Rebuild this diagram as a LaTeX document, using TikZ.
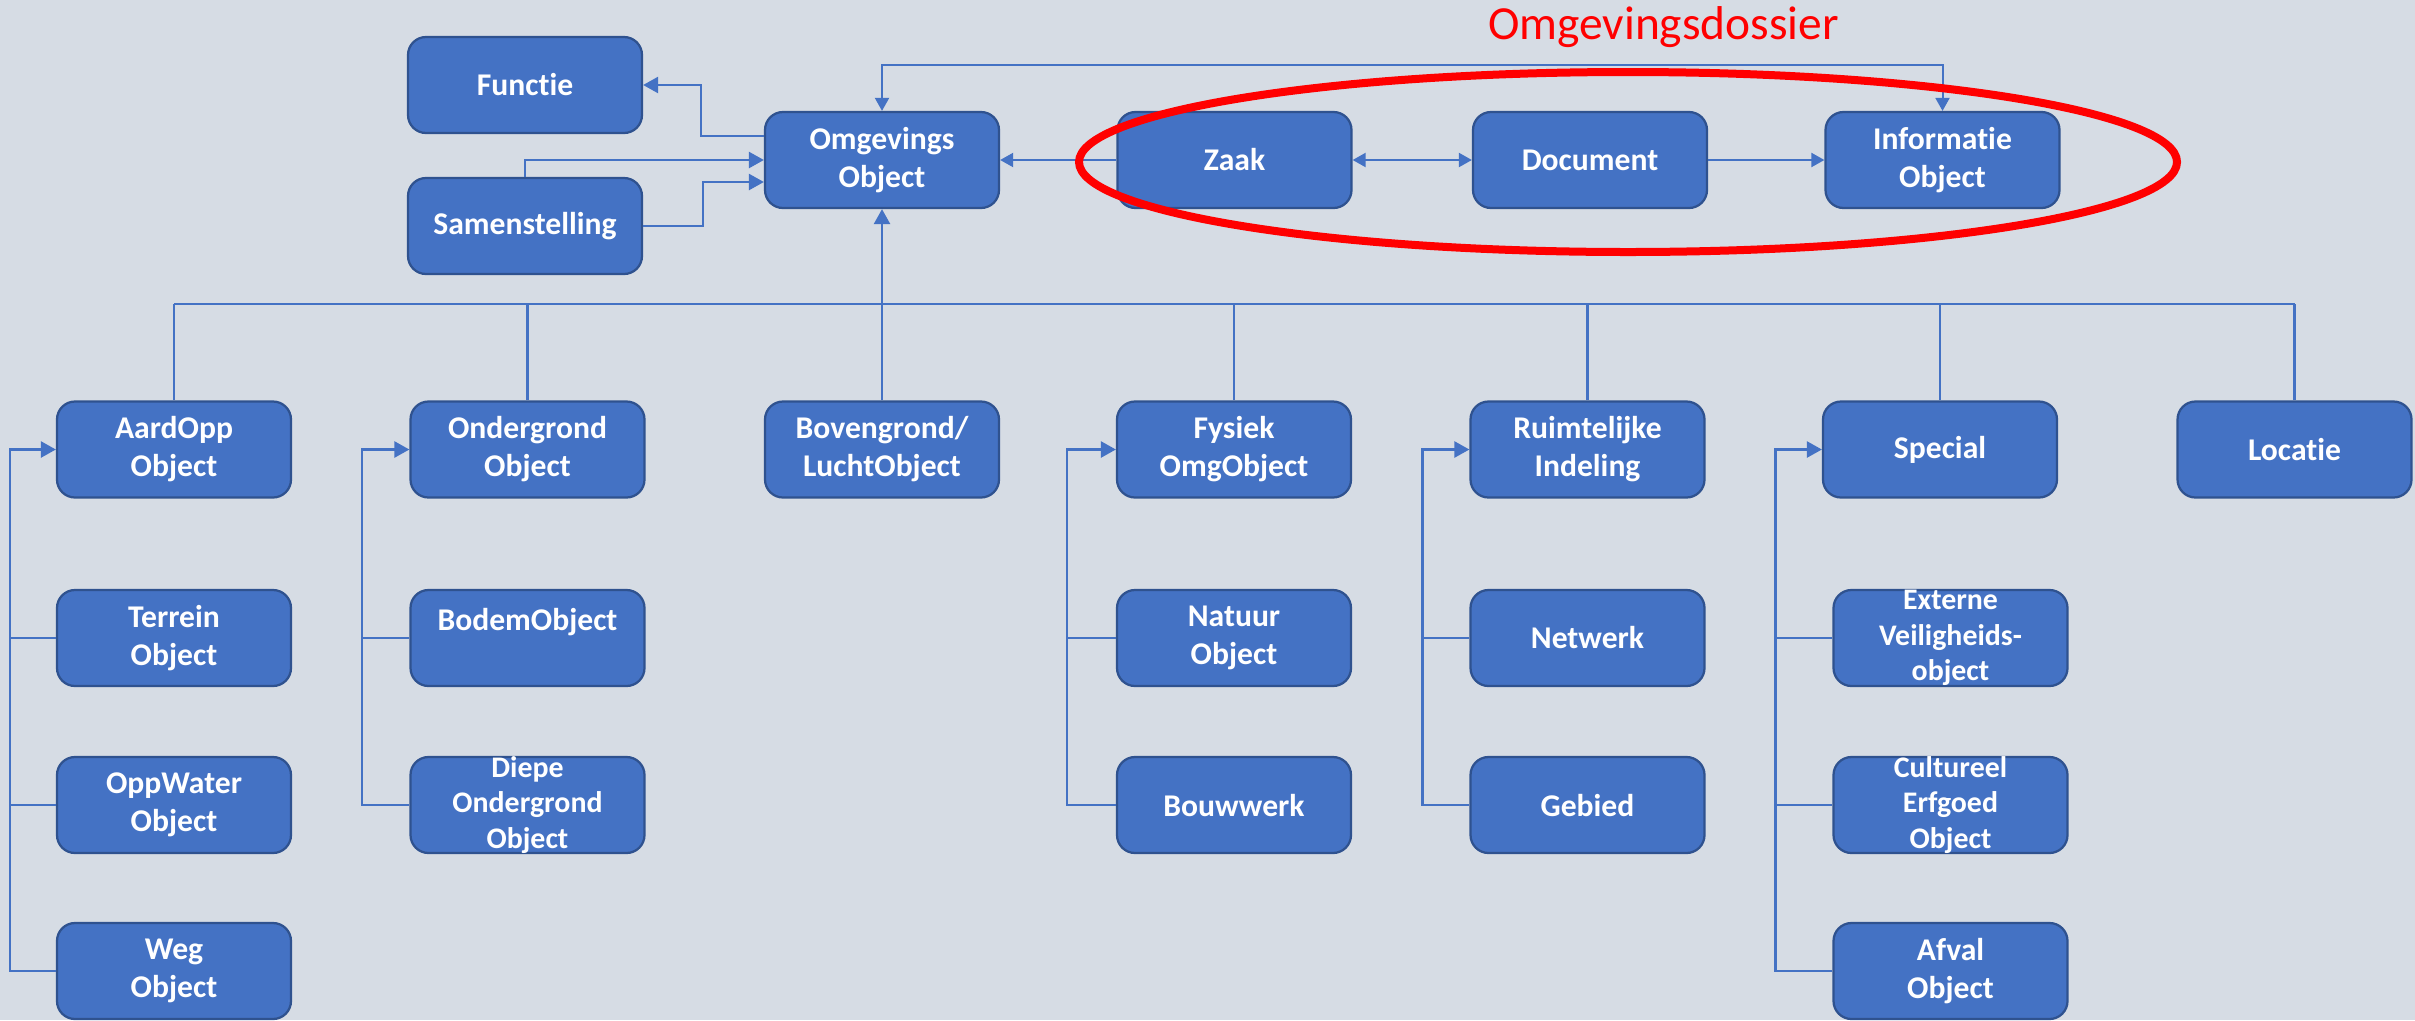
\documentclass[tikz,border=0pt]{standalone}
\usepackage{fontspec}
\setmainfont{Carlito}[Ligatures=NoCommon]
\usetikzlibrary{arrows.meta}

\definecolor{achtergrond}{HTML}{D6DCE4}
\definecolor{blokblauw}{HTML}{4472C4}
\definecolor{randblauw}{HTML}{2F528F}

% tekst in een blok van vaste maat (loopt over als hij te lang is)
\newcommand{\bloktekst}[1]{\parbox[c][1.92cm][c]{4.68cm}{\centering #1}}

\begin{document}
\begin{tikzpicture}[
  >={Triangle[length=0.3cm, width=0.32cm]},
  blok/.style={draw=randblauw, line width=0.045cm, fill=blokblauw,
    rounded corners=0.36cm, inner sep=0pt, text=white,
    font=\fontsize{18}{21.6}\selectfont\bfseries},
  klein/.style={font=\fontsize{17}{20.2}\selectfont\bfseries},
  lijn/.style={draw=blokblauw, line width=0.05cm},
  dun/.style={draw=blokblauw, line width=0.04cm,
    >={Triangle[length=0.26cm, width=0.28cm]}}
]
  % Achtergrond en maat van het plaatje
  \fill[achtergrond] (0,0) rectangle (48.3,-20.4);
  \useasboundingbox (0,0) rectangle (48.3,-20.4);

  % Bovenste rij
  \node[blok] (functie) at (10.5,-1.7) {\bloktekst{Functie}};
  \node[blok] (samenstelling) at (10.5,-4.52) {\bloktekst{Samenstelling}};
  \node[blok] (omg) at (17.64,-3.2) {\bloktekst{Omgevings\\Object}};
  \node[blok] (zaak) at (24.69,-3.2) {\bloktekst{Zaak}};
  \node[blok] (document) at (31.8,-3.2) {\bloktekst{Document}};
  \node[blok] (informatie) at (38.85,-3.2) {\bloktekst{Informatie\\Object}};

  % Hoofdsoorten
  \node[blok] (aardopp) at (3.48,-8.99) {\bloktekst{AardOpp\\Object}};
  \node[blok] (ondergrond) at (10.55,-8.99) {\bloktekst{Ondergrond\\Object}};
  \node[blok] (bovengrond) at (17.64,-8.99) {\bloktekst{Bovengrond/\\LuchtObject}};
  \node[blok] (fysiek) at (24.68,-8.99) {\bloktekst{Fysiek\\OmgObject}};
  \node[blok] (ruimtelijk) at (31.75,-8.99) {\bloktekst{Ruimtelijke\\Indeling}};
  \node[blok] (special) at (38.8,-8.99) {\bloktekst{Special}};
  \node[blok] (locatie) at (45.89,-8.99) {\bloktekst{Locatie}};

  % Subsoorten
  \node[blok] (terrein) at (3.48,-12.76) {\bloktekst{Terrein\\Object}};
  \node[blok] (oppwater) at (3.48,-16.1) {\bloktekst{OppWater\\Object}};
  \node[blok] (weg) at (3.48,-19.42) {\bloktekst{Weg\\Object}};
  \node[blok] (bodem) at (10.55,-12.76) {\bloktekst{BodemObject\\\mbox{}}};
  \node[blok, klein] (diepe) at (10.55,-16.1) {\bloktekst{Diepe\\Ondergrond\\Object}};
  \node[blok] (natuur) at (24.68,-12.76) {\bloktekst{Natuur\\Object}};
  \node[blok] (bouwwerk) at (24.68,-16.1) {\bloktekst{Bouwwerk}};
  \node[blok] (netwerk) at (31.75,-12.76) {\bloktekst{Netwerk}};
  \node[blok] (gebied) at (31.75,-16.1) {\bloktekst{Gebied}};
  \node[blok, klein] (extern) at (39.01,-12.76) {\bloktekst{Externe\\Veiligheids-\\object}};
  \node[blok, klein] (cultureel) at (39.01,-16.1) {\bloktekst{Cultureel\\Erfgoed\\Object}};
  \node[blok] (afval) at (39.01,-19.42) {\bloktekst{Afval\\Object}};

  % Verbindingen rond OmgevingsObject
  \draw[lijn, ->] ([yshift=0.48cm]omg.west) -- ++(-1.26,0) |- (functie.east);
  \draw[lijn, ->] (samenstelling.north) |- (omg.west);
  \draw[lijn, ->] (samenstelling.east) -- ++(1.2,0) |- ([yshift=-0.44cm]omg.west);
  \draw[dun, <->] (omg.north) -- ++(0,0.92) -| (informatie.north);
  \draw[dun, ->] (zaak.west) -- (omg.east);
  \draw[dun, <->] (zaak.east) -- (document.west);
  \draw[dun, ->] (document.east) -- (informatie.west);

  % Verzamellijn naar de hoofdsoorten
  \coordinate (bus) at (0,-6.08);
  \foreach \n in {aardopp,ondergrond,fysiek,ruimtelijk,special,locatie}
    \draw[lijn] (\n.north) -- (\n.north |- bus);
  \draw[lijn] (aardopp.north |- bus) -- (locatie.north |- bus);
  \draw[lijn, ->] (bovengrond.north) -- (omg.south);

  % Haken naar de subsoorten
  \draw[lijn, ->] (weg.west) -- ++(-0.92,0) |- (aardopp.west);
  \foreach \n in {terrein,oppwater}
    \draw[lijn] (\n.west) -- ++(-0.92,0);
  \draw[lijn, ->] (diepe.west) -- ++(-0.95,0) |- (ondergrond.west);
  \draw[lijn] (bodem.west) -- ++(-0.95,0);
  \draw[lijn, ->] (bouwwerk.west) -- ++(-0.98,0) |- (fysiek.west);
  \draw[lijn] (natuur.west) -- ++(-0.98,0);
  \draw[lijn, ->] (gebied.west) -- ++(-0.94,0) |- (ruimtelijk.west);
  \draw[lijn] (netwerk.west) -- ++(-0.94,0);
  \draw[lijn, ->] (afval.west) -- ++(-1.14,0) |- (special.west);
  \foreach \n in {extern,cultureel}
    \draw[lijn] (\n.west) -- ++(-1.14,0);

  % Omgevingsdossier
  \node[text=red, anchor=base, font=\fontsize{27}{32}\selectfont] (dossier) at (33.27,-0.78) {Omgevingsdossier};
  \draw[red, line width=0.16cm] (32.56,-3.24) ellipse [x radius=10.98, y radius=1.8];
\end{tikzpicture}
\end{document}
